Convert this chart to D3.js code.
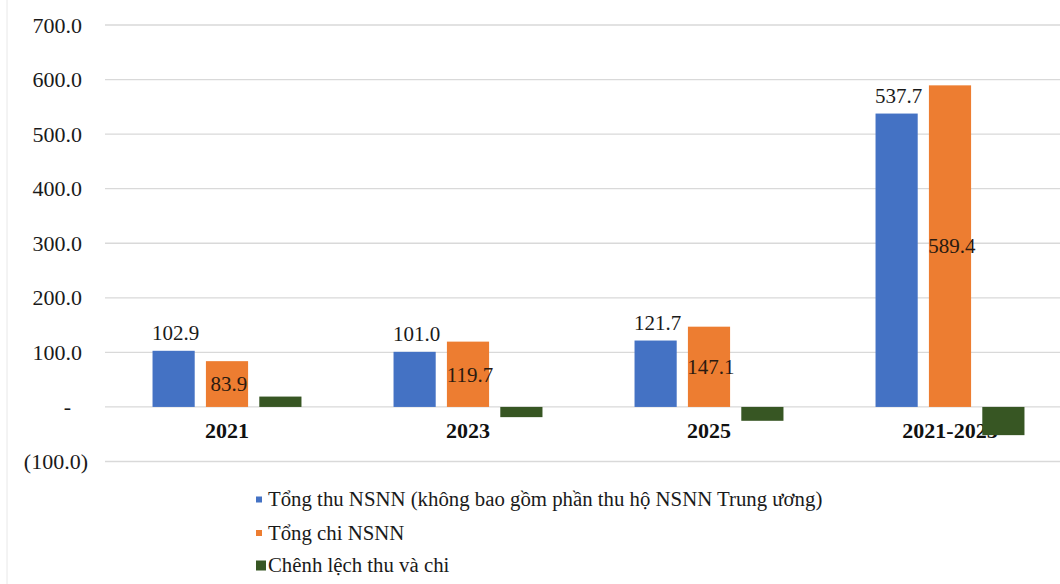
<!DOCTYPE html>
<html>
<head>
<meta charset="utf-8">
<script src="https://cdn.jsdelivr.net/npm/d3@7"></script>
<style>
  html, body { margin: 0; padding: 0; background: #fff; }
  svg { display: block; }
  svg text { font-family: "Liberation Serif", "DejaVu Serif", serif !important; }
</style>
</head>
<body>
<svg id="chart" width="1060" height="584"></svg>
<script>
// Budget revenue / expenditure (billion VND) by period
const categories = ["2021", "2023", "2025", "2021-2025"];
const seriesKeys = ["thu", "chi", "chenh"];
const seriesNames = [
  "Tổng thu NSNN (không bao gồm phần thu hộ NSNN Trung ương)",
  "Tổng chi NSNN",
  "Chênh lệch thu và chi"
];
const thuValues = [102.9, 101.0, 121.7, 537.7];
const chiValues = [83.9, 119.7, 147.1, 589.4];
const chenhValues = [19.0, -18.7, -25.4, -51.7];
const yTicks = [-100, 0, 100, 200, 300, 400, 500, 600, 700];

const colors = { thu: "#4472C4", chi: "#ED7D31", chenh: "#375623" };

const rows = categories.map((c, i) => ({
  cat: c,
  thu: thuValues[i],
  chi: chiValues[i],
  chenh: chenhValues[i]
}));

const svg = d3.select("#chart");
svg.append("rect").attr("width", 1060).attr("height", 584).attr("fill", "#fff");

// faint frame edge on the left
svg.append("line")
  .attr("x1", 7).attr("x2", 7).attr("y1", 0).attr("y2", 584)
  .attr("stroke", "#e8e8e8").attr("stroke-width", 1);

const y = d3.scaleLinear().domain([-100, 700]).range([461.5, 25]);

const x0 = d3.scaleBand()
  .domain(categories)
  .range([106.5, 1070.5])
  .paddingInner(0.382)
  .paddingOuter(0.191);

const x1 = d3.scaleBand()
  .domain(seriesKeys)
  .range([0, x0.bandwidth()])
  .paddingInner(0.21);

// gridlines
svg.append("g")
  .selectAll("line")
  .data(yTicks)
  .join("line")
  .attr("x1", 105).attr("x2", 1060)
  .attr("y1", d => y(d)).attr("y2", d => y(d))
  .attr("stroke", "#d9d9d9").attr("stroke-width", 1.3);

// y axis labels in accounting style
const fmt = d => d === 0 ? "-" : d < 0 ? "(" + d3.format(".1f")(-d) + ")" : d3.format(".1f")(d);
const yAxis = svg.append("g")
  .attr("transform", "translate(88,0)")
  .call(d3.axisLeft(y).tickValues(yTicks).tickFormat(fmt).tickSize(0).tickPadding(6));
yAxis.select(".domain").remove();
yAxis.attr("font-family", null);
yAxis.selectAll("text")
  .attr("font-size", 22)
  .attr("fill", "#1a1a1a")
  .attr("x", d => d === 0 ? -17 : d < 0 ? 0 : -6);

// category labels (sit beneath the bars)
svg.append("g")
  .selectAll("text")
  .data(categories)
  .join("text")
  .attr("x", d => x0(d) + x0.bandwidth() / 2)
  .attr("y", 438)
  .attr("text-anchor", "middle")
  .attr("font-size", 22)
  .attr("font-weight", "bold")
  .attr("fill", "#111")
  .text(d => d);

// bars
const groups = svg.append("g")
  .selectAll("g")
  .data(rows)
  .join("g")
  .attr("transform", d => `translate(${x0(d.cat)},0)`);

groups.selectAll("rect")
  .data(d => seriesKeys.map(k => ({ key: k, value: d[k] })))
  .join("rect")
  .attr("x", d => x1(d.key))
  .attr("width", x1.bandwidth())
  .attr("y", d => y(Math.max(0, d.value)))
  .attr("height", d => Math.abs(y(d.value) - y(0)))
  .attr("fill", d => colors[d.key]);

// revenue labels above the bars
groups.append("text")
  .attr("x", x1("thu") + x1.bandwidth() / 2 + 2)
  .attr("y", d => y(d.thu) - 11)
  .attr("text-anchor", "middle")
  .attr("font-size", 21)
  .attr("fill", "#1a1a1a")
  .text(d => d3.format(".1f")(d.thu));

// expenditure labels centred inside the bars
groups.append("text")
  .attr("x", x1("chi") + x1.bandwidth() / 2 + 2)
  .attr("y", d => (y(d.chi) + y(0)) / 2)
  .attr("dy", "0.35em")
  .attr("text-anchor", "middle")
  .attr("font-size", 21)
  .attr("fill", "#2a1a10")
  .text(d => d3.format(".1f")(d.chi));

// legend
const legendRows = [
  { key: "thu", y: 506, size: 6 },
  { key: "chi", y: 539.5, size: 6 },
  { key: "chenh", y: 572, size: 10 }
];
const legend = svg.append("g");
legendRows.forEach((r, i) => {
  legend.append("rect")
    .attr("x", 256)
    .attr("y", r.y - 6.5 - r.size / 2)
    .attr("width", r.size)
    .attr("height", r.size)
    .attr("fill", colors[r.key]);
  legend.append("text")
    .attr("x", 268)
    .attr("y", r.y)
    .attr("font-size", 20.8)
    .attr("fill", "#1a1a1a")
    .text(seriesNames[i]);
});
</script>
</body>
</html>
